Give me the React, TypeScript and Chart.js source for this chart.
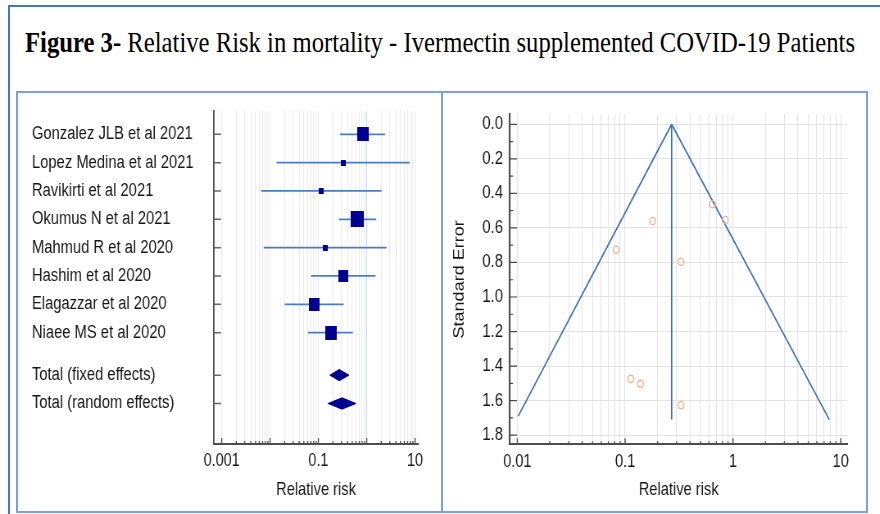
import React, { useEffect, useLayoutEffect, useRef } from 'react';
import { Chart, registerables } from 'chart.js';

Chart.register(...registerables);

// ---------------- data ----------------
const STUDY_LABELS = [
  'Gonzalez JLB et al 2021',
  'Lopez Medina et al 2021',
  'Ravikirti et al 2021',
  'Okumus N et al 2021',
  'Mahmud R et al 2020',
  'Hashim et al 2020',
  'Elagazzar et al 2020',
  'Niaee MS et al 2020',
];
const STUDY_RR = [0.85, 0.33, 0.113, 0.645, 0.139, 0.33, 0.0826, 0.18];
const STUDY_CI_LOW = [0.28, 0.0136, 0.0065, 0.266, 0.0074, 0.0705, 0.0202, 0.061];
const STUDY_CI_HIGH = [2.4, 7.7, 2.02, 1.57, 2.56, 1.52, 0.333, 0.516];
const STUDY_WEIGHT = [18.9, 2.9, 3.5, 24.7, 3.5, 13.9, 15.1, 17.6];
const STUDY_SE = [0.554, 1.626, 1.474, 0.463, 1.503, 0.796, 0.726, 0.56];

const TOTAL_LABELS = ['Total (fixed effects)', 'Total (random effects)'];
const TOTAL_RR = [0.27, 0.307];
const TOTAL_CI_LOW = [0.173, 0.158];
const TOTAL_CI_HIGH = [0.428, 0.596];

const FOREST_X_TICKS = ['0.001', '0.1', '10'];
const FUNNEL_X_TICKS = ['0.01', '0.1', '1', '10'];
const FUNNEL_Y_TICKS = ['0.0', '0.2', '0.4', '0.6', '0.8', '1.0', '1.2', '1.4', '1.6', '1.8'];

const FUNNEL_POOLED_RR = [0.27, 0.27];
const FUNNEL_POOLED_SE = [0, 1.71];
const FUNNEL_LEFT_RR = [0.27, 0.0102];
const FUNNEL_LEFT_SE = [0, 1.69];
const FUNNEL_RIGHT_RR = [0.27, 7.83];
const FUNNEL_RIGHT_SE = [0, 1.71];

// ---------------- styles ----------------
const FONT = '"Liberation Sans", Arial, Helvetica, sans-serif';
const TEXT = '#161616';
const AXIS = '#4d4d4d';
const NAVY = '#000090';
const CI_COLOR = '#4a7ebf';
const FUNNEL_LINE = '#3a6fb6';
const POINT_COLOR = '#f6b08b';
const FRAME_DARK = '#4a73c6';
const FRAME_LIGHT = '#7f9fde';
const SQUARE_SCALE = 3.25;
const DIAMOND_HALF = 0.2;
const TITLE_WIDTH = 830;

// the reference picture is horizontally condensed: canvases are drawn wider and squeezed by CSS
const CSS_W = 422;
const CSS_H = 415;
const RENDER_W = 515;
const SQX = CSS_W / RENDER_W;
const ix = (pagePx: number) => pagePx / SQX; // page width -> internal canvas width

function labelFor(labels: string[], v: number): string {
  const hit = labels.find((l) => Math.abs(Math.log10(Number(l)) - Math.log10(v)) < 1e-6);
  return hit ?? '';
}
function isPow10(v: number) {
  const l = Math.log10(v);
  return Math.abs(l - Math.round(l)) < 1e-6;
}
function logTicks(labels: string[], maxValue: number) {
  const e0 = Math.round(Math.log10(Number(labels[0])));
  const e1 = Math.round(Math.log10(Number(labels[labels.length - 1])));
  const out: { value: number }[] = [];
  for (let e = e0; e <= e1; e++) {
    for (let m = 1; m <= 9; m++) {
      const v = m * Math.pow(10, e);
      if (v <= maxValue * (1 + 1e-9)) out.push({ value: v });
    }
  }
  return out;
}
function squareImage(side: number) {
  const s = Math.max(2, Math.round(side));
  const c = document.createElement('canvas');
  c.width = s;
  c.height = s;
  const g = c.getContext('2d')!;
  g.fillStyle = NAVY;
  g.fillRect(0, 0, s, s);
  return c;
}

type TickSpec = { len: (v: number) => number; color: string; width: number };
function makeInnerTicks(specs: Record<string, TickSpec>) {
  return {
    id: 'innerTicks',
    afterDatasetsDraw(chart: any) {
      const { ctx, chartArea } = chart;
      ctx.save();
      for (const id of Object.keys(specs)) {
        const scale = chart.scales[id];
        const spec = specs[id];
        ctx.strokeStyle = spec.color;
        ctx.lineWidth = spec.width;
        ctx.beginPath();
        for (const t of scale.ticks) {
          const p = scale.getPixelForValue(t.value);
          const len = spec.len(t.value);
          if (len <= 0) continue;
          if (scale.isHorizontal()) {
            ctx.moveTo(p, chartArea.bottom);
            ctx.lineTo(p, chartArea.bottom - len);
          } else {
            ctx.moveTo(chartArea.left, p);
            ctx.lineTo(chartArea.left + len, p);
          }
        }
        ctx.stroke();
      }
      ctx.restore();
    },
  };
}

export default function App() {
  const forestRef = useRef<HTMLCanvasElement>(null);
  const funnelRef = useRef<HTMLCanvasElement>(null);
  const titleRef = useRef<HTMLDivElement>(null);

  useLayoutEffect(() => {
    const el = titleRef.current;
    if (!el) return;
    el.style.transform = 'none';
    const w = el.getBoundingClientRect().width;
    if (w > 0) el.style.transform = `scaleX(${TITLE_WIDTH / w})`;
  }, []);

  useEffect(() => {
    Chart.defaults.font.family = FONT;
    const studyRows = STUDY_LABELS.map((_, i) => i);
    const totalRows = TOTAL_LABELS.map((_, j) => STUDY_LABELS.length + 0.5 + j);
    const rows = [...studyRows, ...totalRows];
    const rowLabels = [...STUDY_LABELS, ...TOTAL_LABELS];
    const squares = STUDY_WEIGHT.map((w) => squareImage(SQUARE_SCALE * Math.sqrt(w)));

    // forest canvas sits at page x=18; chart area 214..418, labels start at 32
    const fPadLeft = ix(32 - 18);
    const fAreaLeft = ix(214 - 18);
    const fAreaRight = ix(418 - 18);

    const forest = new Chart(forestRef.current!, {
      type: 'scatter',
      data: {
        datasets: [
          {
            data: STUDY_RR.map((v, i) => ({ x: v, y: studyRows[i] })),
            pointStyle: (c: any) => squares[c.dataIndex],
            pointRadius: 8,
            order: 0,
          } as any,
          ...TOTAL_RR.map((v, j) => ({
            type: 'line',
            data: [
              { x: TOTAL_CI_LOW[j], y: totalRows[j] },
              { x: v, y: totalRows[j] - DIAMOND_HALF },
              { x: TOTAL_CI_HIGH[j], y: totalRows[j] },
              { x: v, y: totalRows[j] + DIAMOND_HALF },
              { x: TOTAL_CI_LOW[j], y: totalRows[j] },
            ],
            borderColor: NAVY,
            backgroundColor: NAVY,
            borderWidth: 1,
            fill: 'shape',
            pointRadius: 0,
            tension: 0,
            order: 1,
          })),
          ...STUDY_RR.map((_, i) => ({
            type: 'line',
            data: [
              { x: STUDY_CI_LOW[i], y: studyRows[i] },
              { x: STUDY_CI_HIGH[i], y: studyRows[i] },
            ],
            borderColor: CI_COLOR,
            borderWidth: 1.8,
            pointRadius: 0,
            fill: false,
            order: 2,
          })),
        ] as any,
      },
      options: {
        responsive: false,
        animation: false,
        events: [],
        devicePixelRatio: 1,
        layout: { padding: { left: fPadLeft, top: 16, right: RENDER_W - fAreaRight, bottom: 0 } },
        plugins: { legend: { display: false }, tooltip: { enabled: false } },
        scales: {
          x: {
            type: 'logarithmic',
            min: 0.000693,
            max: 11.5,
            afterBuildTicks: (s: any) => {
              s.ticks = logTicks(FOREST_X_TICKS, s.max);
            },
            afterFit: (s: any) => {
              s.height = 66;
            },
            ticks: {
              autoSkip: false,
              maxRotation: 0,
              minRotation: 0,
              padding: 7,
              color: TEXT,
              font: { size: 17.6 },
              callback: (v: any) => labelFor(FOREST_X_TICKS, Number(v)),
            },
            grid: {
              drawTicks: false,
              lineWidth: 1.1,
              color: (c: any) =>
                c.tick && Math.abs(c.tick.value - 1) < 1e-9 ? '#c3d4ea' : '#ebebeb',
            },
            border: { display: true, color: AXIS, width: 2 },
            title: {
              display: true,
              text: 'Relative risk',
              color: TEXT,
              font: { size: 17.9 },
              padding: { top: 0, bottom: 9.6 },
            },
          },
          y: {
            type: 'linear',
            reverse: true,
            min: -0.822,
            max: 10.93,
            afterBuildTicks: (s: any) => {
              s.ticks = rows.map((v) => ({ value: v }));
            },
            afterFit: (s: any) => {
              s.width = fAreaLeft - fPadLeft;
            },
            ticks: {
              autoSkip: false,
              crossAlign: 'far',
              padding: 0,
              color: TEXT,
              font: { size: 18 },
              callback: (_v: any, i: number) => rowLabels[i],
            },
            grid: { display: false, drawTicks: false },
            border: { display: true, color: AXIS, width: 1.8 },
          },
        } as any,
      },
      plugins: [
        makeInnerTicks({
          x: { len: (v) => (isPow10(v) ? 6 : 3), color: AXIS, width: 1.4 },
          y: { len: () => ix(7), color: '#666', width: 1.5 },
        }),
      ],
    } as any);

    const yMajors = FUNNEL_Y_TICKS.map(Number);
    const yTickValues: number[] = [];
    yMajors.forEach((v, i) => {
      yTickValues.push(v);
      if (i < yMajors.length - 1) yTickValues.push((v + yMajors[i + 1]) / 2);
    });
    const isYMajor = (v: number) => yMajors.some((m) => Math.abs(m - v) < 1e-9);

    const lineDs = (xs: number[], ys: number[]) => ({
      type: 'line',
      data: xs.map((x, i) => ({ x, y: ys[i] })),
      borderColor: FUNNEL_LINE,
      borderWidth: 1.7,
      pointRadius: 0,
      fill: false,
      tension: 0,
      order: 1,
    });

    // funnel canvas sits at page x=444; chart area 510..847.3
    const uAreaLeft = ix(510 - 444);
    const uAreaRight = ix(847.3 - 444);

    const funnel = new Chart(funnelRef.current!, {
      type: 'scatter',
      data: {
        datasets: [
          {
            data: STUDY_RR.map((v, i) => ({ x: v, y: STUDY_SE[i] })),
            pointStyle: 'circle',
            pointRadius: 3.6,
            borderWidth: 1.4,
            borderColor: POINT_COLOR,
            backgroundColor: 'rgba(255,255,255,0)',
            order: 0,
          },
          lineDs(FUNNEL_LEFT_RR, FUNNEL_LEFT_SE),
          lineDs(FUNNEL_RIGHT_RR, FUNNEL_RIGHT_SE),
          lineDs(FUNNEL_POOLED_RR, FUNNEL_POOLED_SE),
        ] as any,
      },
      options: {
        responsive: false,
        animation: false,
        events: [],
        devicePixelRatio: 1,
        layout: { padding: { left: 0, top: 15.7, right: RENDER_W - uAreaRight, bottom: 0 } },
        plugins: { legend: { display: false }, tooltip: { enabled: false } },
        scales: {
          x: {
            type: 'logarithmic',
            min: 0.00856,
            max: 11.5,
            afterBuildTicks: (s: any) => {
              s.ticks = logTicks(FUNNEL_X_TICKS, s.max);
            },
            afterFit: (s: any) => {
              s.height = 65.7;
            },
            ticks: {
              autoSkip: false,
              maxRotation: 0,
              minRotation: 0,
              padding: 7,
              color: TEXT,
              font: { size: 17.8 },
              callback: (v: any) => labelFor(FUNNEL_X_TICKS, Number(v)),
            },
            grid: { drawTicks: false, lineWidth: 1.1, color: '#e3e3e3' },
            border: { display: true, color: AXIS, width: 2 },
            title: {
              display: true,
              text: 'Relative risk',
              color: TEXT,
              font: { size: 17.9 },
              padding: { top: 0, bottom: 9.6 },
            },
          },
          y: {
            type: 'linear',
            reverse: true,
            min: -0.057,
            max: 1.853,
            afterBuildTicks: (s: any) => {
              s.ticks = yTickValues.map((v) => ({ value: v }));
            },
            afterFit: (s: any) => {
              s.width = uAreaLeft;
            },
            ticks: {
              autoSkip: false,
              padding: ix(7),
              color: TEXT,
              font: { size: 18.2 },
              callback: (v: any) => {
                const idx = yMajors.findIndex((m) => Math.abs(m - Number(v)) < 1e-9);
                return idx >= 0 ? FUNNEL_Y_TICKS[idx] : '';
              },
            },
            grid: {
              drawTicks: false,
              lineWidth: 1,
              color: (c: any) => (c.tick && isYMajor(c.tick.value) ? '#e3e3e3' : 'rgba(0,0,0,0)'),
            },
            border: { display: true, color: AXIS, width: 2.2 },
            title: {
              display: true,
              text: 'Standard Error',
              color: TEXT,
              font: { size: 18 },
              padding: { top: ix(15.5) - 10.8, bottom: 0 },
            },
          },
        } as any,
      },
      plugins: [
        makeInnerTicks({
          x: { len: (v) => (isPow10(v) ? 6 : 3), color: AXIS, width: 1.4 },
          y: { len: (v) => (isYMajor(v) ? ix(7) : ix(3)), color: AXIS, width: 1.2 },
        }),
      ],
    } as any);

    return () => {
      forest.destroy();
      funnel.destroy();
    };
  }, []);

  return (
    <div
      style={{
        position: 'absolute',
        left: 0,
        top: 0,
        width: 880,
        height: 514,
        overflow: 'hidden',
        background: '#ffffff',
      }}
    >
      <div
        style={{
          position: 'absolute',
          left: 8,
          top: 5,
          width: 900,
          height: 540,
          borderLeft: `2px solid ${FRAME_DARK}`,
          borderTop: `2px solid ${FRAME_DARK}`,
          boxSizing: 'border-box',
        }}
      />
      <div
        ref={titleRef}
        style={{
          position: 'absolute',
          left: 25,
          top: 28,
          whiteSpace: 'nowrap',
          fontFamily: '"Liberation Serif", "Times New Roman", serif',
          fontSize: 29,
          lineHeight: '29px',
          color: '#000',
          transformOrigin: '0 0',
        }}
      >
        <b>Figure 3-</b> Relative Risk in mortality - Ivermectin supplemented COVID-19 Patients
      </div>
      <div
        style={{
          position: 'absolute',
          left: 16,
          top: 91,
          width: 852,
          height: 422,
          border: `2px solid ${FRAME_LIGHT}`,
          boxSizing: 'border-box',
        }}
      />
      <div
        style={{
          position: 'absolute',
          left: 441,
          top: 91,
          width: 2,
          height: 422,
          background: FRAME_LIGHT,
        }}
      />
      <canvas
        ref={forestRef}
        width={RENDER_W}
        height={CSS_H}
        style={{ position: 'absolute', left: 18, top: 95, width: CSS_W, height: CSS_H }}
      />
      <canvas
        ref={funnelRef}
        width={RENDER_W}
        height={CSS_H}
        style={{ position: 'absolute', left: 444, top: 95, width: CSS_W, height: CSS_H }}
      />
    </div>
  );
}
